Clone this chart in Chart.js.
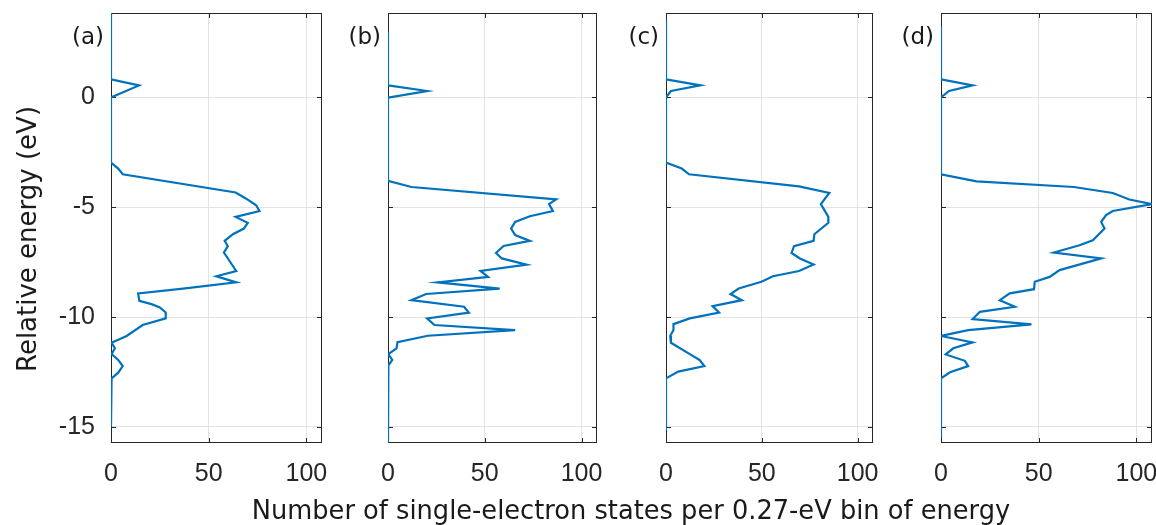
<!DOCTYPE html>
<html>
<head>
<meta charset="utf-8">
<script src="https://cdn.jsdelivr.net/npm/chart.js@4.4.1/dist/chart.umd.min.js"></script>
<style>
  body { margin: 0; background: #fff; }
  #wrap { position: relative; width: 1156px; height: 525px; overflow: hidden; background: #fff; }
  #wrap canvas { position: absolute; left: 0; top: 0; }
  .lbl { position: absolute; font-family: 'DejaVu Sans', sans-serif; color: #1a1a1a; white-space: nowrap; line-height: 1; }
</style>
</head>
<body>
<div id="wrap">
  <canvas id="pa" width="1156" height="525"></canvas>
  <canvas id="pb" width="1156" height="525"></canvas>
  <canvas id="pc" width="1156" height="525"></canvas>
  <canvas id="pd" width="1156" height="525"></canvas>
</div>
<script>
// Density of states: energy (eV) of each bin and number of states in it
const energyA = [3.84, 0.82, 0.545, 0.0, -2.97, -3.24, -3.5, -4.33, -4.6, -4.91, -5.17, -5.44, -5.71, -5.97, -6.23, -6.53, -6.77, -7.06, -7.9, -8.14, -8.42, -8.7, -8.92, -9.26, -9.41, -9.56, -9.79, -10.06, -10.36, -10.86, -11.17, -11.42, -11.68, -11.95, -12.23, -12.53, -12.79, -14.98];
const countA  = [0, 0, 14.3, 0, 0, 3.7, 6, 63.8, 69, 74.3, 76, 63.8, 70, 68, 62.4, 58.2, 59.8, 57.8, 64.1, 53.9, 64.1, 36.9, 13.9, 14.5, 20.7, 25, 28, 28, 16.2, 8, 0.3, 2, 0.3, 3.7, 6, 3.7, 0.3, 0];

const energyB = [2.97, 0.55, 0.29, -0.01, -3.8, -4.08, -4.64, -4.86, -5.17, -5.41, -5.67, -5.97, -6.27, -6.53, -6.76, -7.08, -7.33, -7.61, -7.9, -8.17, -8.42, -8.7, -8.95, -9.23, -9.53, -9.8, -10.06, -10.36, -10.59, -10.85, -11.14, -11.42, -11.68, -11.95, -12.2, -15.71];
const countB  = [0, 0, 20.2, 0, 0, 12.1, 86.9, 83.2, 85.2, 73.3, 65.7, 63.6, 65.7, 73.3, 59.7, 55.8, 58.8, 71.6, 47.8, 51.7, 25.7, 57.7, 19.7, 12.1, 39.3, 41.8, 20.2, 24, 65.7, 20.6, 4.9, 4.4, 0.2, 2.2, 0.2, 0];

const energyC = [3.5, 0.82, 0.545, 0.29, 0.0, -2.97, -3.24, -3.5, -4.05, -4.35, -4.86, -5.44, -5.71, -6.23, -6.53, -6.77, -7.08, -7.33, -7.61, -7.9, -8.14, -8.39, -8.7, -8.95, -9.23, -9.5, -9.79, -10.06, -10.32, -10.59, -10.86, -11.17, -11.73, -11.95, -12.23, -12.48, -12.79, -15.17];
const countC  = [0, 0, 18, 2.6, 0, 0, 8.2, 12, 69.4, 85.2, 80.8, 84.7, 84.7, 77.4, 77, 66.8, 65.5, 69.9, 77, 69.4, 55.8, 49.8, 37.9, 33.7, 39.6, 24.3, 27.7, 12.4, 3.9, 3.9, 2.2, 2.6, 13.3, 17.5, 20, 6.4, 0, 0];

const energyD = [3.24, 0.82, 0.545, 0.29, 0.0, -3.5, -3.82, -4.08, -4.35, -4.65, -4.86, -5.17, -5.36, -5.67, -5.97, -6.5, -6.73, -7.06, -7.33, -7.86, -8.17, -8.39, -8.73, -8.92, -9.23, -9.53, -9.76, -10.09, -10.33, -10.59, -10.86, -11.15, -11.42, -11.7, -11.99, -12.23, -12.51, -12.79, -15.47];
const countD  = [0, 0, 16.2, 4.1, 0, 0, 18.2, 68, 87.9, 96.4, 108, 87.9, 84.5, 82, 83.7, 77.7, 70.9, 57.8, 82, 60.7, 55.6, 48, 47.6, 35.2, 30.1, 37.8, 19.9, 16.2, 46.3, 13.9, 0, 16.2, 6.3, 2.4, 12.2, 13.9, 4.6, 0, 0];

// Axis ranges and tick values shared by all four panels
const xTicks = [0, 50, 100];
const yTicks = [-15, -10, -5, 0];
const xMin = 0, xMax = 108;
const yMin = -15.73, yMax = 3.84;

const panelLabels = ['(a)', '(b)', '(c)', '(d)'];
const xTitle = 'Number of single-electron states per 0.27-eV bin of energy';
const yTitle = 'Relative energy (eV)';

// Layout of the plotting boxes (pixels)
const W = 1156, H = 525;
const panelLeft  = [111, 388, 666, 941];
const panelRight = [322, 597, 873, 1152];
const plotTop = 13, plotBottom = 443;
const YW = 70, XH = 50;
const ink = '#262626';

// Framed box with inward tick marks on every side
const boxPlugin = {
  id: 'boxFrame',
  beforeDatasetsDraw(chart) {
    const { ctx, chartArea: a, scales: { x, y } } = chart;
    ctx.save();
    ctx.strokeStyle = ink;
    ctx.lineWidth = 1;
    ctx.strokeRect(a.left + 0.5, a.top + 0.5, a.right - a.left - 1, a.bottom - a.top - 1);
    const tl = 5;
    ctx.beginPath();
    yTicks.forEach(v => {
      const p = Math.round(y.getPixelForValue(v)) + 0.5;
      ctx.moveTo(a.left, p); ctx.lineTo(a.left + tl, p);
      ctx.moveTo(a.right, p); ctx.lineTo(a.right - tl, p);
    });
    xTicks.forEach(v => {
      const p = Math.round(x.getPixelForValue(v)) + 0.5;
      ctx.moveTo(p, a.bottom); ctx.lineTo(p, a.bottom - tl);
      ctx.moveTo(p, a.top); ctx.lineTo(p, a.top + tl);
    });
    ctx.stroke();
    ctx.restore();
  }
};

function makePanel(id, idx, energy, count, showY) {
  const pts = energy.map((e, i) => ({ x: count[i], y: e }));
  new Chart(document.getElementById(id), {
    type: 'scatter',
    data: {
      datasets: [{
        data: pts,
        showLine: true,
        borderColor: '#0072BD',
        backgroundColor: '#0072BD',
        borderWidth: 2.2,
        pointRadius: 0,
        tension: 0,
        fill: false
      }]
    },
    options: {
      responsive: false,
      animation: false,
      devicePixelRatio: 1,
      events: [],
      layout: {
        padding: {
          left: panelLeft[idx] - YW,
          right: W - panelRight[idx],
          top: plotTop,
          bottom: H - plotBottom - XH
        }
      },
      plugins: { legend: { display: false }, tooltip: { enabled: false } },
      scales: {
        x: {
          type: 'linear', min: xMin, max: xMax,
          afterFit(s) { s.height = XH; s.paddingLeft = 0; s.paddingRight = 0; },
          afterBuildTicks(s) { s.ticks = xTicks.map(v => ({ value: v })); },
          grid: { color: '#e3e3e3', lineWidth: 1, drawTicks: false },
          border: { display: false },
          ticks: { font: { family: 'Liberation Sans', size: 25 }, color: ink, padding: 16, maxRotation: 0 }
        },
        y: {
          type: 'linear', min: yMin, max: yMax,
          afterFit(s) { s.width = YW; s.paddingTop = 0; s.paddingBottom = 0; },
          afterBuildTicks(s) { s.ticks = yTicks.map(v => ({ value: v })); },
          grid: { color: '#e3e3e3', lineWidth: 1, drawTicks: false },
          border: { display: false },
          ticks: { display: showY, font: { family: 'Liberation Sans', size: 25 }, color: ink, padding: 16 }
        }
      }
    },
    plugins: [boxPlugin]
  });
}

makePanel('pa', 0, energyA, countA, true);
makePanel('pb', 1, energyB, countB, false);
makePanel('pc', 2, energyC, countC, false);
makePanel('pd', 3, energyD, countD, false);

// Panel letters and shared axis titles
const wrap = document.getElementById('wrap');
function addText(txt, css) {
  const d = document.createElement('div');
  d.className = 'lbl';
  d.textContent = txt;
  Object.assign(d.style, css);
  wrap.appendChild(d);
}
panelLabels.forEach((t, i) => addText(t, {
  left: (panelLeft[i] - 7) + 'px', top: '36px', fontSize: '23px',
  transform: 'translate(-100%, -50%)'
}));
addText(xTitle, { left: '631px', top: '511px', fontSize: '25.7px', transform: 'translate(-50%, -50%)' });
addText(yTitle, { left: '27px', top: '239px', fontSize: '26px', transform: 'translate(-50%, -50%) rotate(-90deg)' });
</script>
</body>
</html>
